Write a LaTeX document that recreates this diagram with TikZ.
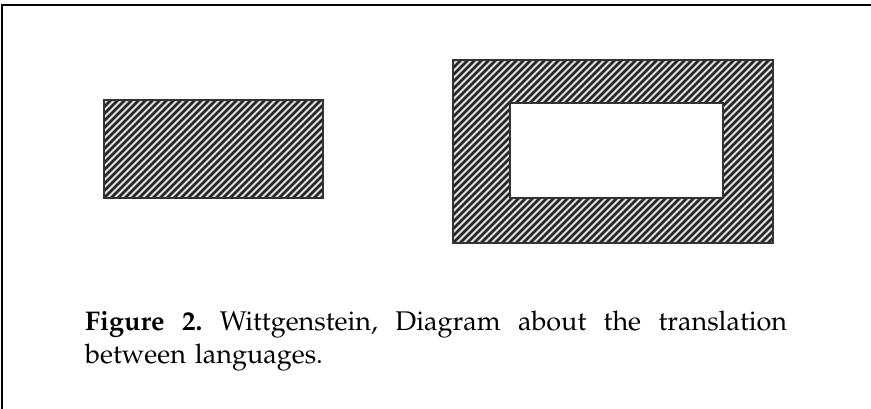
\documentclass[tikz,border=0pt]{standalone}
\usepackage[T1]{fontenc}
\usepackage{mathpazo}
\tikzset{
  hatchline/.style={line width=2.5pt, draw=black!85},
  frameline/.style={line width=1.6pt, draw=black},
  hatchborder/.style={line width=1.1pt, draw=black!80},
  hatchbg/.style={fill=black!12},
}
\begin{document}
\begin{tikzpicture}[x=1pt,y=-1pt]
\useasboundingbox (0,0) rectangle (871,409);
% frame
\draw[frameline] (2,409) -- (2,5) -- (871,5);
% small hatched rectangle
\fill[hatchbg] (104,100) rectangle (323,198);
\begin{scope}
  \clip (104,100) rectangle (323,198);
  \foreach \i in {-120,-113,...,340} {
    \draw[hatchline] (\i,205) -- ++(110,-110);
  }
\end{scope}
\draw[hatchborder] (104,100) rectangle (323,198);
% large hatched frame
\fill[hatchbg] (453,60) rectangle (773,243);
\begin{scope}
  \clip (453,60) rectangle (773,243);
  \foreach \i in {250,257,...,790} {
    \draw[hatchline] (\i,250) -- ++(200,-200);
  }
\end{scope}
\fill[white] (510,103) rectangle (723,198);
\draw[hatchborder] (453,60) rectangle (773,243);
\draw[hatchborder] (510,103) rectangle (723,198);
% caption
\node[anchor=base west, inner sep=0pt, text width=702pt, align=left,
      font=\fontsize{27}{33}\selectfont] (cap) at (85,330)
  {\hbox to 702pt{\textbf{Figure\hfill 2.}\hfill Wittgenstein,\hfill Diagram\hfill about\hfill the\hfill translation}\\
   between languages.};
\end{tikzpicture}
\end{document}
